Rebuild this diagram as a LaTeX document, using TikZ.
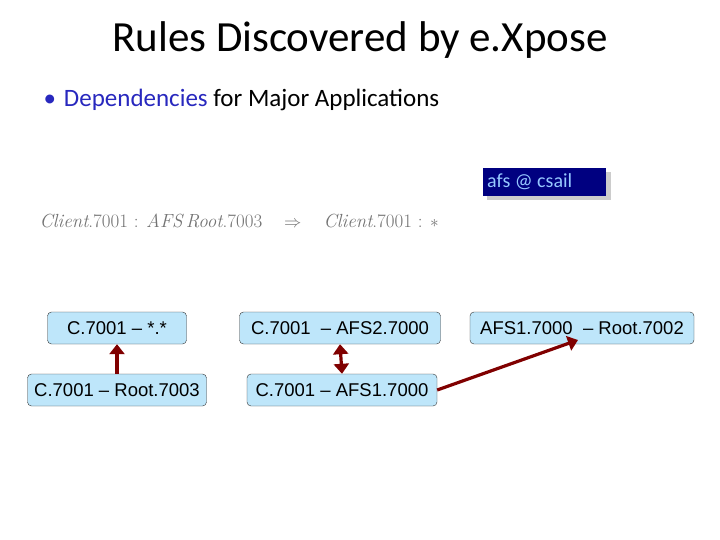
\documentclass[tikz,border=0pt]{standalone}
\usepackage{fontspec}
\setmainfont{Carlito}
\newfontfamily\arial{Liberation Sans}
\newfontfamily\lmr{Latin Modern Roman}
\usetikzlibrary{arrows.meta}
\definecolor{boxfill}{RGB}{190,230,250}
\definecolor{arrowred}{RGB}{128,0,0}
\definecolor{mynavy}{RGB}{0,0,128}
\definecolor{lblue}{RGB}{150,200,255}
\definecolor{bulletblue}{RGB}{40,40,190}
\tikzset{
  rbox/.style={draw=black!80, fill=boxfill, rounded corners=4pt, minimum height=32pt, inner xsep=3pt, font=\arial\fontsize{18.5}{20}\selectfont},
  rarrow/.style={draw=arrowred, line width=3.2pt, -{Triangle[length=10pt,width=15pt]}},
  darrow/.style={draw=arrowred, line width=3.2pt, {Triangle[length=10pt,width=15pt]}-{Triangle[length=10pt,width=15pt]}}
}
\begin{document}
\begin{tikzpicture}[x=1pt,y=-1pt]
\useasboundingbox (0,0) rectangle (720,540);
\node (title) at (360,40) {\fontsize{43}{46}\selectfont Rules Discovered by e.Xpose};
\node[anchor=west] (bullet) at (40,100) {\fontsize{25}{28}\selectfont\textcolor{bulletblue}{\textbullet}\hspace{8pt}\textcolor{bulletblue}{Dependencies} for Major Applications};
\fill[black!20] (487,172) rectangle (611,200);
\node[fill=mynavy, text=lblue, minimum width=123pt, minimum height=28pt, anchor=north west, inner sep=0pt] (afs) at (483,168) {};
\node[text=lblue, anchor=west, inner sep=0pt, font=\fontsize{20}{22}\selectfont] (afst) at (487,182) {afs @ csail};
\node[text=black!55, anchor=west, font=\lmr\fontsize{19}{21}\selectfont] (formula) at (36,221) {\textit{Client}.7001 : \textit{AFS\,Root}.7003\hspace{22pt}$\Rightarrow$\hspace{22pt}\textit{Client}.7001 : $*$};
\node[rbox, minimum width=139pt] (a) at (117,328) {C.7001 \textendash\ *.*};
\node[rbox, minimum width=179pt] (b) at (117,390) {C.7001 \textendash\ Root.7003};
\node[rbox, minimum width=201pt] (c) at (340,328) {C.7001 \ \textendash\ AFS2.7000};
\node[rbox, minimum width=190pt] (d) at (342,390) {C.7001 \textendash\ AFS1.7000};
\node[rbox, minimum width=224pt] (e) at (582,328) {AFS1.7000 \ \textendash\ Root.7002};
\draw[rarrow] (b.north) -- (a.south);
\draw[darrow] (d.north) -- (c.south);
\coordinate (ep) at (578,340);
\draw[rarrow] (d.east) -- (ep);
\end{tikzpicture}
\end{document}
